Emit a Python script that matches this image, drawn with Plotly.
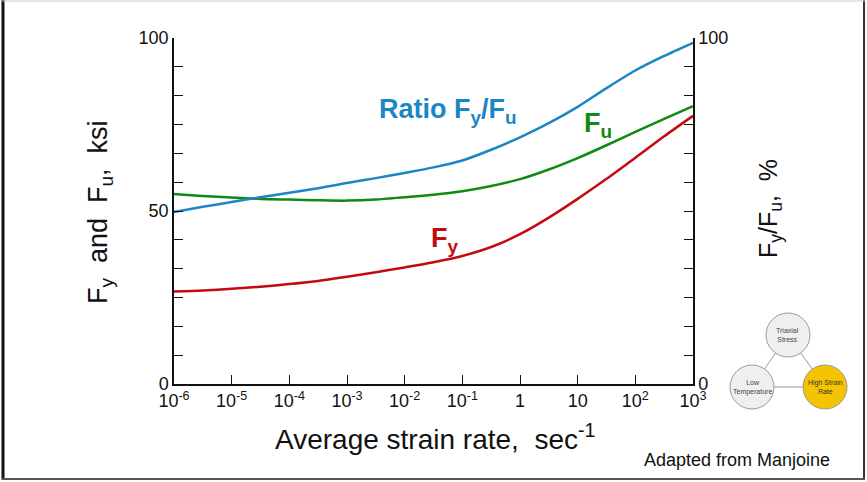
import plotly.graph_objects as go

# ---- data ----
log_rate = [-6, -5.5, -5, -4.5, -4, -3.5, -3, -2.5, -2, -1.5, -1, -0.5, 0, 0.5, 1, 1.5, 2, 2.5, 3]
strain_rate = [10 ** v for v in log_rate]

ratio_fy_fu = [49.7, 51.2, 52.6, 54.0, 55.3, 56.6, 58.1, 59.5, 61.0, 62.6, 64.6, 67.7, 71.3, 75.4, 80.1, 85.5, 90.6, 94.8, 98.6]
fu_ksi = [54.9, 54.3, 53.9, 53.5, 53.3, 53.1, 53.0, 53.3, 54.0, 54.7, 55.7, 57.2, 59.2, 62.0, 65.3, 69.0, 72.9, 76.6, 80.3]
fy_ksi = [26.7, 27.0, 27.5, 28.1, 28.9, 29.8, 31.0, 32.3, 33.7, 35.2, 37.0, 39.6, 43.3, 48.1, 53.5, 59.3, 65.4, 71.6, 77.5]

x_tickvals = [1e-6, 1e-5, 1e-4, 1e-3, 1e-2, 1e-1, 1, 10, 100, 1000]
x_ticktext = ["10<sup>-6</sup>", "10<sup>-5</sup>", "10<sup>-4</sup>", "10<sup>-3</sup>",
              "10<sup>-2</sup>", "10<sup>-1</sup>", "1", "10", "10<sup>2</sup>", "10<sup>3</sup>"]
y_tickvals = [i * 100 / 12 for i in range(13)]
y_ticktext = ["0" if i == 0 else "50" if i == 6 else "100" if i == 12 else "" for i in range(13)]
y2_ticktext = ["0" if i == 0 else "100" if i == 12 else "" for i in range(13)]

BLUE = "#1a86c4"
GREEN = "#108a10"
RED = "#c40a10"
FONT = "Liberation Sans, Arial, sans-serif"

W, H = 867, 482
L, R, T, B = 174, 174, 38, 98
PW, PH = W - L - R, H - T - B


def px(x):
    return (x - L) / PW


def py(y):
    return (H - B - y) / PH


line_style = dict(width=2.5, shape="spline", smoothing=0.8)
fig = go.Figure()
fig.add_trace(go.Scatter(x=strain_rate, y=fu_ksi, mode="lines", line=dict(color=GREEN, **line_style),
                         showlegend=False, hoverinfo="skip"))
fig.add_trace(go.Scatter(x=strain_rate, y=fy_ksi, mode="lines", line=dict(color=RED, **line_style),
                         showlegend=False, hoverinfo="skip"))
fig.add_trace(go.Scatter(x=strain_rate, y=ratio_fy_fu, mode="lines", line=dict(color=BLUE, **line_style),
                         showlegend=False, hoverinfo="skip", yaxis="y2"))

axis_common = dict(showgrid=False, zeroline=False, showline=True, linecolor="#111", linewidth=1.5,
                   ticks="inside", ticklen=9, tickwidth=1.3, tickcolor="#111",
                   tickfont=dict(family=FONT, size=18, color="#111"))

fig.update_layout(
    width=W, height=H,
    margin=dict(l=L, r=R, t=T, b=B),
    paper_bgcolor="white", plot_bgcolor="white",
    font=dict(family=FONT, color="#111"),
    xaxis=dict(type="log", range=[-6, 3], tickvals=x_tickvals, ticktext=x_ticktext, **axis_common),
    yaxis=dict(range=[0, 100], tickvals=y_tickvals, ticktext=y_ticktext, **axis_common),
    yaxis2=dict(range=[0, 100], overlaying="y", side="right", tickvals=y_tickvals, ticktext=y2_ticktext,
                **axis_common),
)

annotations = [
    dict(x=px(435), y=py(437), text="Average strain rate,&nbsp;&nbsp;sec<sup>-1</sup>",
         font=dict(size=28, color="#111")),
    dict(x=px(100), y=py(212), text="F<sub>y</sub>&nbsp;&nbsp;and&nbsp;&nbsp;F<sub>u</sub>,&nbsp;&nbsp;ksi",
         textangle=-90, font=dict(size=27, color="#111")),
    dict(x=px(770), y=py(209), text="F<sub>y</sub>/F<sub>u</sub>,&nbsp;&nbsp;%",
         textangle=-90, font=dict(size=25, color="#111")),
    dict(x=px(377), y=py(111), xanchor="left", text="<b>Ratio F<sub>y</sub>/F<sub>u</sub></b>",
         font=dict(size=27, color=BLUE)),
    dict(x=px(582), y=py(125), xanchor="left", text="<b>F<sub>u</sub></b>", font=dict(size=27, color=GREEN)),
    dict(x=px(429), y=py(240), xanchor="left", text="<b>F<sub>y</sub></b>", font=dict(size=27, color=RED)),
    dict(x=px(832), y=py(460), xanchor="right", text="Adapted from Manjoine", font=dict(size=18, color="#111")),
    dict(x=px(788), y=py(335), text="Triaxial<br>Stress", font=dict(size=7, color="#444")),
    dict(x=px(752), y=py(387), text="Low<br>Temperature", font=dict(size=7, color="#444")),
    dict(x=px(825), y=py(387), text="High Strain<br>Rate", font=dict(size=7, color="#333")),
]
for a in annotations:
    a.update(xref="paper", yref="paper", showarrow=False)
    a.setdefault("xanchor", "center")
    a.setdefault("yanchor", "middle")
    a["font"].setdefault("family", FONT)
fig.update_layout(annotations=annotations)

shapes = []
# frame around the slide
shapes.append(dict(type="line", x0=px(3), x1=px(3), y0=py(0), y1=py(480), line=dict(color="#111", width=3)))
shapes.append(dict(type="line", x0=px(864), x1=px(864), y0=py(0), y1=py(480), line=dict(color="#333", width=2)))
shapes.append(dict(type="line", x0=px(2), x1=px(865), y0=py(479), y1=py(479), line=dict(color="#555", width=2)))
shapes.append(dict(type="line", x0=px(2), x1=px(865), y0=py(1), y1=py(1), line=dict(color="#ccc", width=1)))

# small triangle diagram
nodes = {"tri": (788, 335), "low": (752, 387), "high": (825, 387)}
for a_, b_ in [("tri", "low"), ("tri", "high"), ("low", "high")]:
    (x0, y0), (x1, y1) = nodes[a_], nodes[b_]
    shapes.append(dict(type="line", x0=px(x0), y0=py(y0), x1=px(x1), y1=py(y1),
                       line=dict(color="#999", width=1), layer="above"))
r = 22
for key, fill in [("tri", "#efefef"), ("low", "#efefef"), ("high", "#f5c400")]:
    cx, cy = nodes[key]
    shapes.append(dict(type="circle", x0=px(cx - r), x1=px(cx + r), y0=py(cy + r), y1=py(cy - r),
                       fillcolor=fill, line=dict(color="#999", width=1), layer="above"))
for s in shapes:
    s.update(xref="paper", yref="paper")
fig.update_layout(shapes=shapes)

fig.write_html("out.html", config={"displayModeBar": False},
               post_script="document.body.style.margin='0px';document.body.style.overflow='hidden';")
